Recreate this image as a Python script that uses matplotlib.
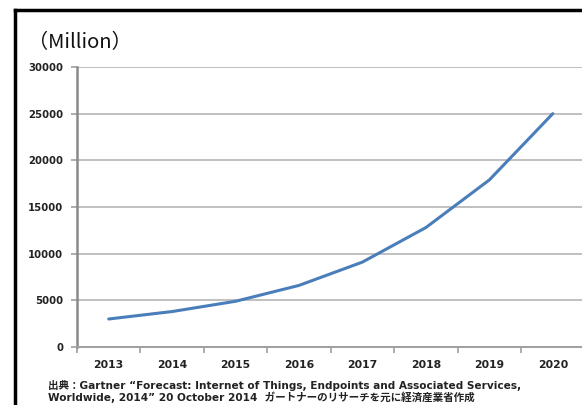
import matplotlib
matplotlib.use('Agg')
import matplotlib.pyplot as plt
from matplotlib.lines import Line2D

plt.rcParams['font.family'] = ['Noto Sans CJK JP', 'DejaVu Sans']
latin_first = ['DejaVu Sans', 'Noto Sans CJK JP']

years = ['2013', '2014', '2015', '2016', '2017', '2018', '2019', '2020']
devices = [3000, 3800, 4900, 6600, 9100, 12800, 17900, 25000]
y_ticks = [0, 5000, 10000, 15000, 20000, 25000, 30000]

unit_label = '（Million）'
source_note = ('出典：Gartner “Forecast: Internet of Things, Endpoints and Associated Services,\n'
               'Worldwide, 2014” 20 October 2014  ガートナーのリサーチを元に経済産業省作成')

fig = plt.figure(figsize=(5.82, 4.05), dpi=100)
ax = fig.add_axes([0.1323, 0.1432, 0.872, 0.6914])

x = list(range(len(years)))
ax.plot(x, devices, color='#4a7ebb', lw=2.2, solid_capstyle='round', zorder=3)

ax.set_xlim(-0.5, len(years) - 0.5)
ax.set_ylim(0, 30000)
ax.set_yticks(y_ticks)
ax.set_yticklabels([str(v) for v in y_ticks], fontsize=7.3, fontweight='bold',
                   color='#222222', family=latin_first)
ax.set_xticks(x)
ax.set_xticklabels(years, fontsize=7.8, fontweight='bold', color='#222222', family=latin_first)
ax.set_xticks([i - 0.5 for i in range(len(years) + 1)], minor=True)
ax.tick_params(axis='x', which='major', length=0, pad=9)
ax.tick_params(axis='x', which='minor', length=4, width=1.2, color='#a0a0a0')
ax.tick_params(axis='y', length=4, width=1.2, color='#a0a0a0', pad=6)

ax.grid(axis='y', color='#c0c0c0', lw=1.4, zorder=0)
ax.set_axisbelow(True)
for side in ['top', 'right']:
    ax.spines[side].set_visible(False)
ax.spines['left'].set_color('#8a8a8a')
ax.spines['left'].set_linewidth(1.8)
ax.spines['bottom'].set_color('#a0a0a0')
ax.spines['bottom'].set_linewidth(1.4)

# outer frame (top and left edges of the cropped box)
fig.add_artist(Line2D([0.026, 1.0], [0.975, 0.975], color='black', lw=2.5,
                      transform=fig.transFigure))
fig.add_artist(Line2D([0.026, 0.026], [0.0, 0.975], color='black', lw=2.5,
                      transform=fig.transFigure))

fig.text(0.048, 0.895, unit_label, fontsize=14.5, color='#111111', va='center')
fig.text(0.082, 0.033, source_note, fontsize=7.6, fontweight='bold', color='#222222',
         va='center', linespacing=1.1, family=latin_first)

fig.savefig('out.png', dpi=100)
